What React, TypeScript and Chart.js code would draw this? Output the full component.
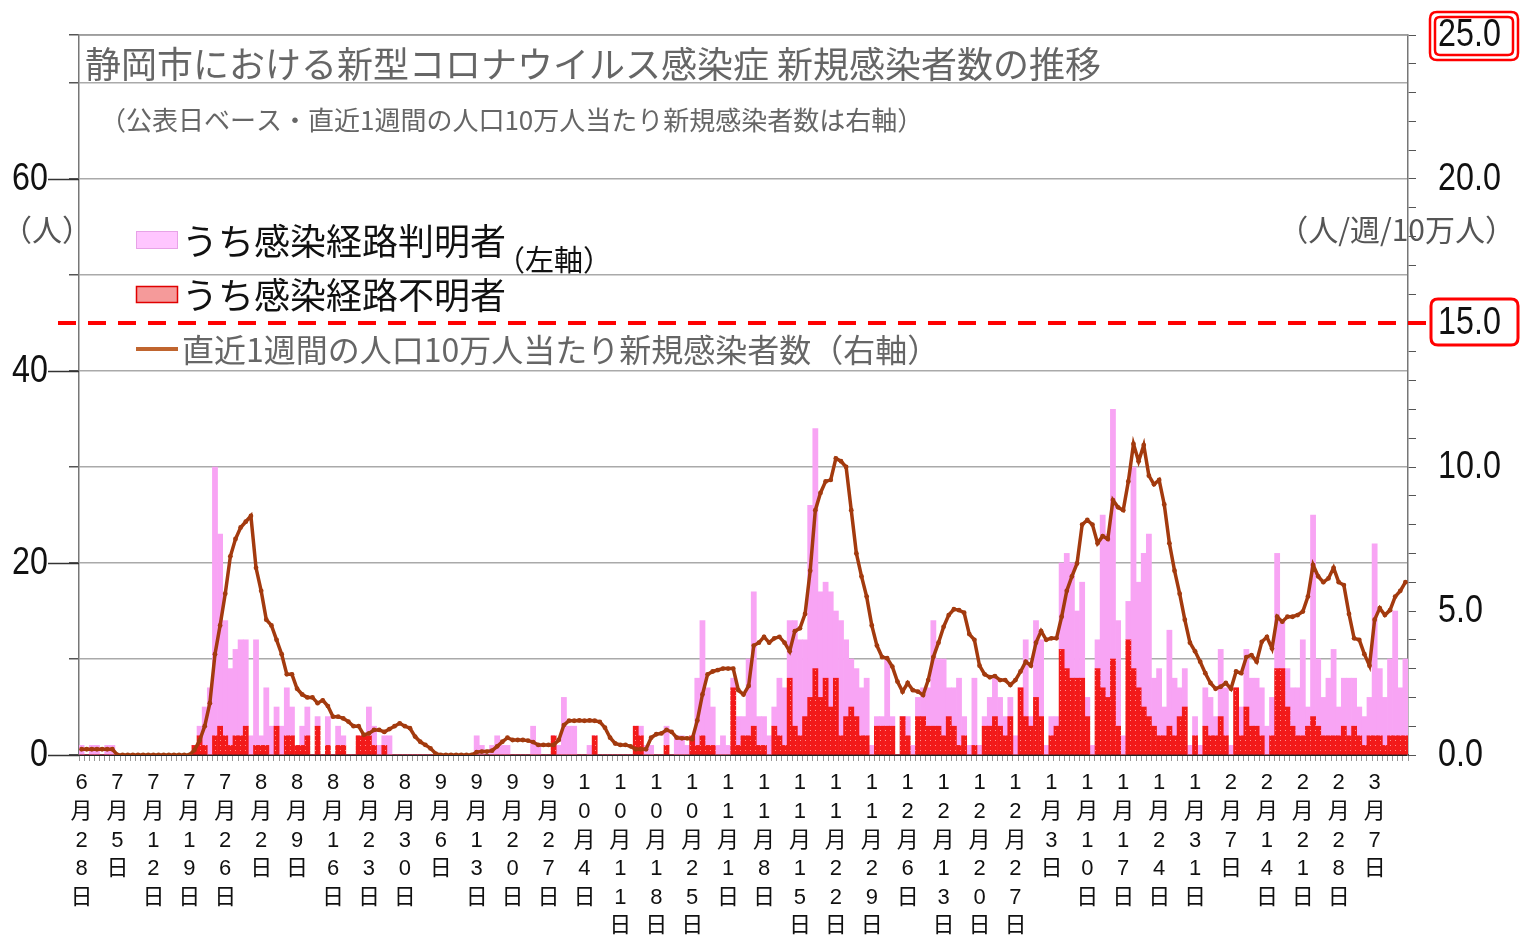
import React, { useEffect, useRef } from 'react';
import { Chart, registerables } from 'chart.js';

Chart.register(...registerables);

// Weekly tick labels (one every 7 days, starting 6月28日)
const weekLabels = [
  '6月28日', '7月5日', '7月12日', '7月19日', '7月26日', '8月2日', '8月9日', '8月16日', '8月23日', '8月30日',
  '9月6日', '9月13日', '9月20日', '9月27日', '10月4日', '10月11日', '10月18日', '10月25日', '11月1日', '11月8日',
  '11月15日', '11月22日', '11月29日', '12月6日', '12月13日', '12月20日', '12月27日', '1月3日', '1月10日', '1月17日',
  '1月24日', '1月31日', '2月7日', '2月14日', '2月21日', '2月28日', '3月7日',
];

// Daily new cases (total = known route + unknown route), left axis
const totalCases = [
  1, 0, 1, 1, 0, 1, 1, 0, 0, 0,
  0, 0, 0, 0, 0, 0, 0, 0, 0, 0,
  0, 0, 1, 3, 5, 7, 30, 23, 14, 9,
  11, 12, 12, 2, 12, 2, 7, 3, 5, 3,
  7, 5, 1, 3, 5, 0, 4, 0, 4, 0,
  3, 2, 0, 0, 2, 2, 5, 3, 1, 2,
  2, 0, 0, 0, 0, 0, 0, 0, 0, 0,
  0, 0, 0, 0, 0, 0, 0, 2, 1, 0,
  1, 2, 1, 1, 0, 0, 0, 0, 3, 1,
  0, 0, 2, 1, 6, 3, 3, 0, 0, 1,
  2, 0, 0, 0, 0, 0, 0, 0, 3, 3,
  1, 1, 0, 0, 3, 0, 2, 2, 1, 2,
  8, 14, 7, 5, 1, 2, 1, 8, 4, 4,
  10, 17, 4, 4, 2, 5, 8, 7, 14, 14,
  12, 12, 26, 34, 17, 18, 17, 15, 14, 12,
  10, 9, 7, 8, 1, 4, 4, 10, 4, 0,
  4, 4, 1, 6, 7, 7, 14, 10, 10, 7,
  7, 8, 4, 1, 8, 1, 4, 6, 8, 6,
  4, 6, 2, 7, 12, 4, 14, 12, 1, 4,
  4, 20, 21, 20, 15, 18, 6, 1, 12, 25,
  23, 36, 14, 2, 16, 30, 18, 21, 23, 8,
  9, 5, 13, 8, 7, 9, 1, 4, 1, 7,
  6, 4, 11, 7, 1, 7, 5, 11, 8, 8,
  7, 3, 6, 21, 14, 9, 7, 7, 12, 5,
  25, 10, 6, 8, 11, 5, 8, 8, 8, 5,
  4, 6, 22, 9, 6, 10, 15, 7, 10,
];

// うち感染経路不明者 (daily), left axis
const unknownCases = [
  0, 0, 0, 0, 0, 0, 0, 0, 0, 0,
  0, 0, 0, 0, 0, 0, 0, 0, 0, 0,
  0, 0, 1, 2, 1, 0, 2, 3, 2, 1,
  2, 2, 3, 0, 1, 1, 1, 0, 3, 0,
  2, 2, 1, 1, 2, 0, 3, 0, 1, 0,
  1, 1, 0, 0, 2, 2, 2, 1, 0, 1,
  0, 0, 0, 0, 0, 0, 0, 0, 0, 0,
  0, 0, 0, 0, 0, 0, 0, 0, 0, 0,
  0, 0, 0, 0, 0, 0, 0, 0, 0, 0,
  0, 0, 2, 0, 0, 0, 0, 0, 0, 0,
  2, 0, 0, 0, 0, 0, 0, 0, 3, 2,
  0, 0, 0, 0, 1, 0, 0, 0, 0, 2,
  1, 2, 1, 1, 0, 0, 0, 7, 1, 2,
  2, 3, 1, 1, 0, 3, 2, 1, 8, 3,
  2, 4, 6, 9, 6, 8, 5, 8, 2, 4,
  5, 4, 2, 2, 0, 3, 3, 3, 3, 0,
  4, 2, 0, 4, 4, 3, 3, 3, 2, 4,
  3, 1, 2, 0, 1, 0, 3, 3, 4, 3,
  2, 4, 0, 7, 4, 3, 6, 4, 0, 2,
  3, 11, 9, 8, 8, 8, 4, 0, 9, 7,
  6, 10, 3, 0, 12, 9, 7, 5, 4, 3,
  2, 2, 3, 2, 4, 5, 0, 2, 0, 3,
  2, 2, 4, 2, 0, 7, 2, 5, 3, 3,
  2, 0, 2, 9, 9, 5, 3, 2, 2, 3,
  4, 3, 2, 2, 2, 2, 3, 2, 3, 2,
  1, 2, 2, 2, 1, 2, 2, 2, 2,
];

// 直近1週間の人口10万人当たり新規感染者数, right axis
const weeklyRate = [
  0.2, 0.2, 0.2, 0.2, 0.2, 0.2, 0.2, 0, 0, 0,
  0, 0, 0, 0, 0, 0, 0, 0, 0, 0,
  0, 0, 0.17, 0.5, 1.0, 1.8, 3.5, 4.5, 5.6, 6.9,
  7.5, 7.9, 8.1, 8.3, 6.5, 5.7, 4.7, 4.5, 4.0, 3.5,
  2.8, 2.8, 2.3, 2.1, 2.0, 2.0, 1.8, 1.9, 1.7, 1.33,
  1.33, 1.27, 1.16, 1.0, 1.0, 0.7, 0.75, 0.87, 0.87, 0.8,
  0.9, 1.0, 1.1, 1.0, 0.93, 0.64, 0.46, 0.35, 0.23, 0.05,
  0, 0, 0, 0, 0, 0, 0, 0.1, 0.12, 0.12,
  0.15, 0.3, 0.46, 0.6, 0.52, 0.52, 0.52, 0.5, 0.45, 0.35,
  0.35, 0.35, 0.35, 0.52, 1.04, 1.19, 1.19, 1.2, 1.19, 1.2,
  1.19, 1.15, 0.95, 0.6, 0.4, 0.35, 0.35, 0.3, 0.2, 0.2,
  0.2, 0.6, 0.72, 0.75, 0.87, 0.8, 0.6, 0.58, 0.58, 0.55,
  1.2, 2.1, 2.8, 2.9, 2.95, 3.0, 3.0, 3.0, 2.25, 2.1,
  2.4, 3.8, 3.9, 4.1, 3.9, 4.05, 4.1, 3.9, 3.6, 4.3,
  4.4, 4.9, 6.4, 8.5, 9.1, 9.5, 9.55, 10.3, 10.2, 10.0,
  8.5, 7.0, 6.2, 5.5, 4.5, 3.8, 3.4, 3.36, 3.07, 2.55,
  2.2, 2.5, 2.25, 2.2, 2.08, 2.6, 3.4, 3.9, 4.45, 4.86,
  5.06, 5.03, 4.94, 4.2, 4.0, 3.1, 2.8, 2.7, 2.74, 2.6,
  2.6, 2.43, 2.6, 2.9, 3.24, 3.1, 3.9, 4.3, 4.0, 4.05,
  4.05, 4.8, 5.7, 6.2, 6.65, 8.0, 8.16, 8.0, 7.35, 7.6,
  7.5, 8.85, 8.6, 8.5, 9.5, 10.8, 10.2, 10.76, 9.7, 9.4,
  9.55, 8.7, 7.35, 6.4, 5.6, 4.7, 3.9, 3.6, 3.24, 2.84,
  2.5, 2.3, 2.37, 2.5, 2.3, 2.9, 2.84, 3.4, 3.47, 3.24,
  3.93, 4.1, 3.7, 4.8, 4.63, 4.8, 4.8, 4.86, 4.98, 5.5,
  6.6, 6.2, 6.0, 6.13, 6.5, 6.0, 5.9, 4.9, 4.05, 4.0,
  3.5, 3.1, 4.7, 5.1, 4.86, 5.03, 5.5, 5.7, 6.0,
];

const leftLabelledTicks = [0, 20, 40, 60];
const rightLabelledTicks = [0, 5, 10, 15, 20, 25];
const thresholdValue = 15.0;

const titleLine1 = '静岡市における新型コロナウイルス感染症 新規感染者数の推移';
const titleLine2 = '（公表日ベース・直近1週間の人口10万人当たり新規感染者数は右軸）';
const legendKnown = 'うち感染経路判明者';
const legendLeftAxis = '（左軸）';
const legendUnknown = 'うち感染経路不明者';
const legendRate = '直近1週間の人口10万人当たり新規感染者数（右軸）';
const leftUnit = '（人）';
const rightUnit = '（人/週/10万人）';

const knownCases = totalCases.map((t, i) => t - unknownCases[i]);
const categories = totalCases.map((_, i) => (i % 7 === 0 ? weekLabels[i / 7] : ''));

const NUM_FONT = "'Liberation Sans', Arial, sans-serif";
const X_FONT = "'Liberation Sans', 'Noto Sans CJK JP', sans-serif";
const JP_FONT = "'Noto Sans CJK JP', sans-serif";

const PINK = '#F8A4F4';
const BROWN = '#A33A0E';
const RED = '#F21A1A';

function makeHatch(): CanvasPattern | string {
  const c = document.createElement('canvas');
  c.width = 5;
  c.height = 5;
  const g = c.getContext('2d');
  if (!g) return RED;
  g.fillStyle = RED;
  g.fillRect(0, 0, 5, 5);
  g.fillStyle = '#FF8E8E';
  g.fillRect(0, 0, 1, 1);
  const p = g.createPattern(c, 'repeat');
  return p || RED;
}

export default function App() {
  const ref = useRef<HTMLCanvasElement | null>(null);

  useEffect(() => {
    if (!ref.current) return;
    const hatch = makeHatch();

    const overlay = {
      id: 'overlay',
      afterDraw(chart: any) {
        const ctx = chart.ctx as CanvasRenderingContext2D;
        const { left, right, top } = chart.chartArea;
        const yL = chart.scales.y;
        const yR = chart.scales.y1;
        ctx.save();

        // top border
        ctx.strokeStyle = '#999';
        ctx.lineWidth = 1.5;
        ctx.beginPath();
        ctx.moveTo(left, top);
        ctx.lineTo(right, top);
        ctx.stroke();

        // long ticks next to labelled left values
        ctx.strokeStyle = '#333';
        ctx.lineWidth = 1.5;
        leftLabelledTicks.forEach((v) => {
          const y = Math.round(yL.getPixelForValue(v)) + 0.5;
          ctx.beginPath();
          ctx.moveTo(48, y);
          ctx.lineTo(left, y);
          ctx.stroke();
        });

        // axis numbers (condensed look)
        ctx.fillStyle = '#111';
        ctx.font = `38px ${NUM_FONT}`;
        ctx.textBaseline = 'middle';
        leftLabelledTicks.forEach((v) => {
          const y = yL.getPixelForValue(v);
          ctx.save();
          ctx.translate(48, y + 1);
          ctx.scale(0.85, 1);
          ctx.textAlign = 'right';
          ctx.fillText(String(v), 0, 0);
          ctx.restore();
        });
        rightLabelledTicks.forEach((v) => {
          const y = yR.getPixelForValue(v);
          ctx.save();
          ctx.translate(1438, y + 1);
          ctx.scale(0.85, 1);
          ctx.textAlign = 'left';
          ctx.fillText(v.toFixed(1), 0, 0);
          ctx.restore();
        });

        // titles (grey, as in the reference)
        ctx.fillStyle = '#666';
        ctx.textBaseline = 'middle';
        ctx.textAlign = 'left';
        ctx.font = `36px ${JP_FONT}`;
        ctx.fillText(titleLine1, 85, 64);
        ctx.font = `26px ${JP_FONT}`;
        ctx.fillText(titleLine2, 100, 120);

        // units
        ctx.font = `30px ${JP_FONT}`;
        ctx.fillStyle = '#555';
        ctx.fillText(leftUnit, 2, 230);
        ctx.textAlign = 'right';
        ctx.fillText(rightUnit, 1515, 230);
        ctx.textAlign = 'left';

        // legend
        ctx.fillStyle = '#FFC6FF';
        ctx.fillRect(136, 231, 42, 18);
        ctx.strokeStyle = '#E7A2E7';
        ctx.lineWidth = 1;
        ctx.strokeRect(136.5, 231.5, 41, 17);
        ctx.fillStyle = '#111';
        ctx.font = `36px ${JP_FONT}`;
        ctx.fillText(legendKnown, 182, 241);
        ctx.font = `29px ${JP_FONT}`;
        ctx.fillText(legendLeftAxis, 496, 260);

        ctx.fillStyle = '#F59A9A';
        ctx.fillRect(136, 286, 42, 17);
        ctx.strokeStyle = '#E00000';
        ctx.lineWidth = 1.5;
        ctx.strokeRect(136.5, 286.5, 41, 16);
        ctx.fillStyle = '#111';
        ctx.font = `36px ${JP_FONT}`;
        ctx.fillText(legendUnknown, 182, 295);

        ctx.strokeStyle = '#C0652F';
        ctx.lineWidth = 4;
        ctx.beginPath();
        ctx.moveTo(136, 349);
        ctx.lineTo(178, 349);
        ctx.stroke();
        ctx.fillStyle = '#666';
        ctx.font = `32px ${JP_FONT}`;
        ctx.fillText(legendRate, 182, 350);

        // threshold dashed line
        const yT = yR.getPixelForValue(thresholdValue);
        ctx.strokeStyle = '#FF0000';
        ctx.lineWidth = 4;
        ctx.setLineDash([18, 12]);
        ctx.beginPath();
        ctx.moveTo(58, yT);
        ctx.lineTo(1430, yT);
        ctx.stroke();
        ctx.setLineDash([]);

        // red highlight boxes
        const rr = (x: number, y: number, w: number, h: number, r: number) => {
          ctx.beginPath();
          ctx.moveTo(x + r, y);
          ctx.lineTo(x + w - r, y);
          ctx.quadraticCurveTo(x + w, y, x + w, y + r);
          ctx.lineTo(x + w, y + h - r);
          ctx.quadraticCurveTo(x + w, y + h, x + w - r, y + h);
          ctx.lineTo(x + r, y + h);
          ctx.quadraticCurveTo(x, y + h, x, y + h - r);
          ctx.lineTo(x, y + r);
          ctx.quadraticCurveTo(x, y, x + r, y);
          ctx.closePath();
          ctx.stroke();
        };
        ctx.strokeStyle = '#FF0000';
        ctx.lineWidth = 3;
        rr(1431, yT - 24, 87, 46, 7);
        const yTop = yR.getPixelForValue(25);
        ctx.lineWidth = 2.5;
        rr(1430, yTop - 23, 88, 48, 7);
        rr(1435, yTop - 18, 78, 38, 5);

        ctx.restore();
      },
    };

    const chart = new Chart(ref.current, {
      type: 'bar',
      data: {
        labels: categories,
        datasets: [
          {
            type: 'line',
            label: legendRate,
            data: weeklyRate,
            yAxisID: 'y1',
            borderColor: BROWN,
            backgroundColor: BROWN,
            borderWidth: 3.5,
            pointRadius: 2.4,
            pointBorderWidth: 0,
            pointBackgroundColor: BROWN,
            tension: 0,
            order: 0,
          } as any,
          {
            type: 'bar',
            label: legendUnknown,
            data: unknownCases,
            yAxisID: 'y',
            backgroundColor: hatch as any,
            borderWidth: 0,
            barPercentage: 1,
            categoryPercentage: 1,
            stack: 's',
            order: 1,
          },
          {
            type: 'bar',
            label: legendKnown,
            data: knownCases,
            yAxisID: 'y',
            backgroundColor: PINK,
            borderWidth: 0,
            barPercentage: 1,
            categoryPercentage: 1,
            stack: 's',
            order: 1,
          },
        ],
      },
      options: {
        animation: false,
        responsive: false,
        devicePixelRatio: 1,
        layout: { padding: { top: 35, left: 0, right: 0, bottom: 0 } },
        plugins: {
          legend: { display: false },
          tooltip: { enabled: false },
          title: { display: false },
        },
        scales: {
          x: {
            type: 'category',
            offset: true,
            stacked: true,
            grid: { drawOnChartArea: false, tickLength: 6, color: '#999', lineWidth: 1 },
            border: { color: '#222', width: 2 },
            ticks: {
              autoSkip: false,
              maxRotation: 0,
              minRotation: 0,
              padding: 8,
              color: '#111',
              font: { family: X_FONT, size: 22, lineHeight: 1.3 },
              callback: (_v: any, i: number) => {
                const l = categories[i];
                return l ? Array.from(l) : '';
              },
            },
            afterFit: (s: any) => {
              s.height = 189;
            },
          },
          y: {
            position: 'left',
            min: 0,
            max: 75,
            stacked: true,
            ticks: {
              stepSize: 10,
              autoSkip: false,
              padding: 21,
              callback: () => '',
            },
            grid: { color: '#AAAAAA', lineWidth: 1.5, tickLength: 10, tickColor: '#555' },
            border: { color: '#777', width: 1.5 },
            afterFit: (s: any) => {
              s.width = 79;
            },
          },
          y1: {
            position: 'right',
            min: 0,
            max: 25,
            ticks: {
              stepSize: 1,
              autoSkip: false,
              padding: 22,
              callback: () => '',
            },
            grid: { drawOnChartArea: false, tickLength: 8, color: '#555' },
            border: { color: '#777', width: 1.5 },
            afterFit: (s: any) => {
              s.width = 115;
            },
          },
        },
      } as any,
      plugins: [overlay],
    });

    return () => chart.destroy();
  }, []);

  return (
    <div style={{ position: 'absolute', left: 0, top: 0, width: 1523, height: 944, background: '#fff' }}>
      <canvas ref={ref} width={1523} height={944} style={{ width: 1523, height: 944, display: 'block' }} />
    </div>
  );
}
